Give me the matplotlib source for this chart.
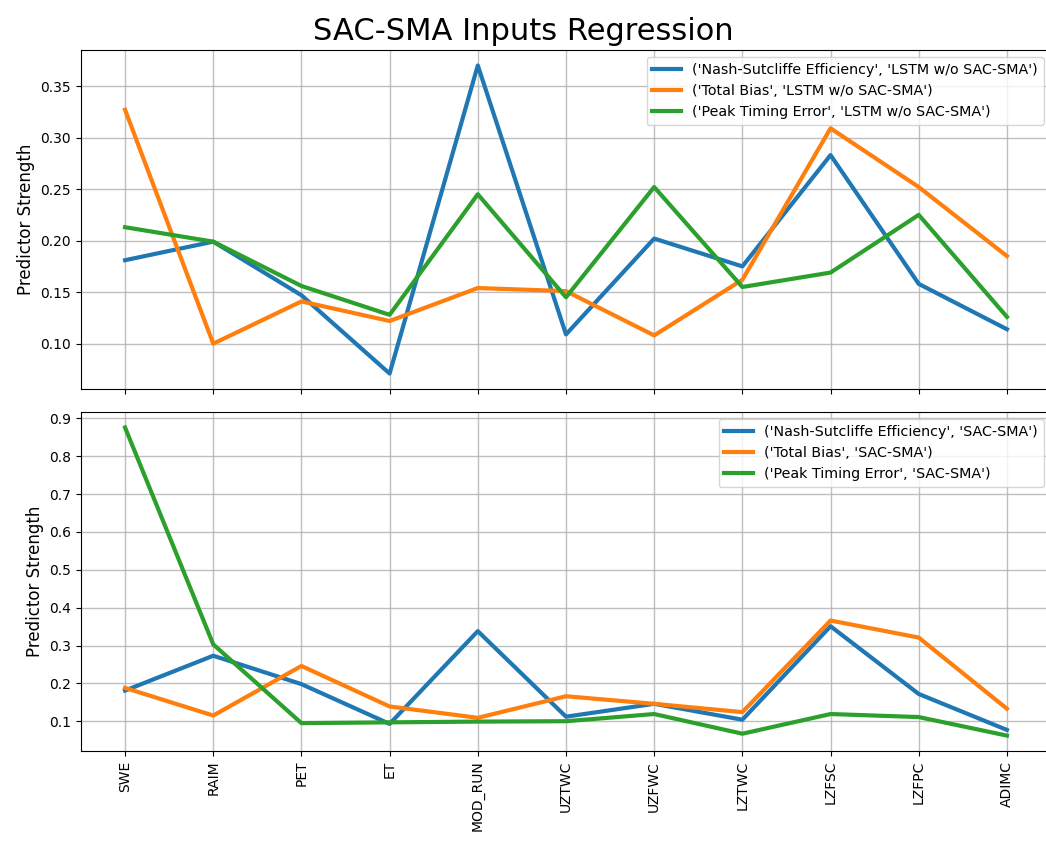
import matplotlib
matplotlib.use("Agg")
import matplotlib.pyplot as plt

inputs = ["SWE", "RAIM", "PET", "ET", "MOD_RUN", "UZTWC", "UZFWC", "LZTWC", "LZFSC", "LZFPC", "ADIMC"]

nse_lstm = [0.181, 0.199, 0.147, 0.071, 0.370, 0.109, 0.202, 0.175, 0.283, 0.158, 0.114]
bias_lstm = [0.327, 0.100, 0.141, 0.122, 0.154, 0.151, 0.108, 0.162, 0.309, 0.252, 0.185]
peak_lstm = [0.213, 0.199, 0.156, 0.128, 0.245, 0.145, 0.252, 0.155, 0.169, 0.225, 0.126]

nse_sac = [0.181, 0.273, 0.198, 0.093, 0.338, 0.112, 0.146, 0.104, 0.351, 0.172, 0.077]
bias_sac = [0.188, 0.115, 0.246, 0.139, 0.109, 0.166, 0.146, 0.124, 0.366, 0.321, 0.133]
peak_sac = [0.876, 0.303, 0.095, 0.097, 0.099, 0.100, 0.119, 0.067, 0.119, 0.111, 0.062]

top_labels = ["('Nash-Sutcliffe Efficiency', 'LSTM w/o SAC-SMA')",
              "('Total Bias', 'LSTM w/o SAC-SMA')",
              "('Peak Timing Error', 'LSTM w/o SAC-SMA')"]
bot_labels = ["('Nash-Sutcliffe Efficiency', 'SAC-SMA')",
              "('Total Bias', 'SAC-SMA')",
              "('Peak Timing Error', 'SAC-SMA')"]

colors = ["#1f77b4", "#ff7f0e", "#2ca02c"]

fig = plt.figure(figsize=(10.46, 8.41), dpi=100)
ax1 = fig.add_axes([0.0774, 0.5375, 0.9274, 0.403])
ax2 = fig.add_axes([0.0774, 0.107, 0.9274, 0.403], sharex=ax1)

x = list(range(len(inputs)))
for ax, series, labels in [(ax1, [nse_lstm, bias_lstm, peak_lstm], top_labels),
                           (ax2, [nse_sac, bias_sac, peak_sac], bot_labels)]:
    for s, lab, c in zip(series, labels, colors):
        ax.plot(x, s, color=c, lw=3, label=lab)
    ax.grid(True, color="#b0b0b0", lw=1, alpha=0.8)
    ax.set_ylabel("Predictor Strength", fontsize=12)
    ax.legend(loc="upper right", fontsize=10.3)

ax2.set_xticks(x)
ax2.set_xticklabels(inputs, rotation=90)
plt.setp(ax1.get_xticklabels(), visible=False)
ax1.set_yticks([0.10, 0.15, 0.20, 0.25, 0.30, 0.35])
ax2.set_yticks([0.1, 0.2, 0.3, 0.4, 0.5, 0.6, 0.7, 0.8, 0.9])

fig.text(0.5, 1 - 40 / 841, "SAC-SMA Inputs Regression", fontsize=22,
         ha="center", va="baseline")
fig.savefig("out.png", dpi=100)
